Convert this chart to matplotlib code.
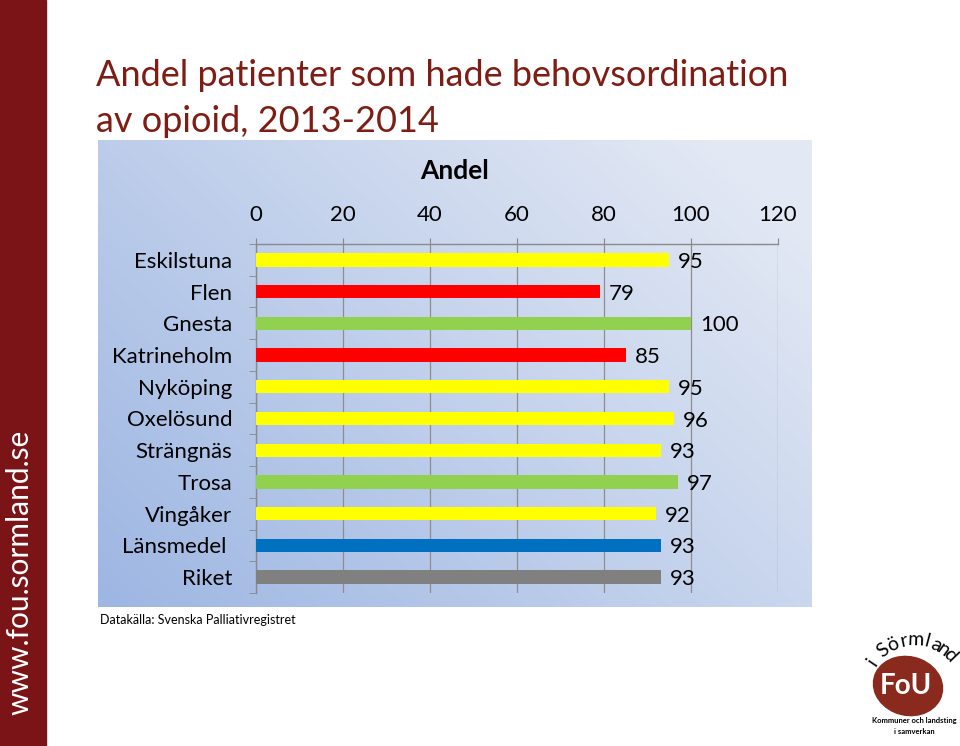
import numpy as np
import matplotlib
matplotlib.use('Agg')
from matplotlib import pyplot as plt
from matplotlib.patches import Rectangle, Ellipse

plt.rcParams['font.family'] = ['Lato', 'DejaVu Sans']

kommuner = ['Eskilstuna', 'Flen', 'Gnesta', 'Katrineholm', 'Nyköping', 'Oxelösund',
            'Strängnäs', 'Trosa', 'Vingåker', 'Länsmedel ', 'Riket']
andel = [95, 79, 100, 85, 95, 96, 93, 97, 92, 93, 93]
farger = ['#ffff00', '#ff0000', '#92d050', '#ff0000', '#ffff00', '#ffff00',
          '#ffff00', '#92d050', '#ffff00', '#0070c0', '#808080']
xticks = [0, 20, 40, 60, 80, 100, 120]

W, H = 960, 746
fig = plt.figure(figsize=(W / 100, H / 100), dpi=100)
fig.patch.set_facecolor('white')

def fx(px):
    return px / W

def fy(py):
    return 1 - py / H

# red band on the left
fig.patches.append(Rectangle((0, 0), fx(46), 1, transform=fig.transFigure,
                             color='#7b1416', zorder=0))
fig.text(fx(20), fy(572), 'www.fou.sormland.se', rotation=90, color='white',
         fontsize=21.5, ha='center', va='center')

# title
rod = '#7f1d14'
fig.text(fx(96), fy(76), 'Andel patienter som hade behovsordination', color=rod,
         fontsize=26, ha='left', va='center')
fig.text(fx(96), fy(122), 'av opioid, 2013-2014', color=rod,
         fontsize=26, ha='left', va='center')

# gradient background of the chart
bg = fig.add_axes([fx(98), fy(607), fx(812 - 98), (607 - 140) / H], zorder=0)
gx = np.linspace(0, 1, 200)
gy = np.linspace(0, 1, 200)
GX, GY = np.meshgrid(gx, gy)
t = np.clip(0.65 * GX + 0.45 * (1 - GY), 0, 1)  # 0 = bottom-left, 1 = top-right
c0 = np.array([0x9d, 0xb6, 0xe2]) / 255
c1 = np.array([0xe2, 0xe8, 0xf4]) / 255
img = c0[None, None, :] * (1 - t[..., None]) + c1[None, None, :] * t[..., None]
bg.imshow(img, origin='upper', aspect='auto', extent=[0, 1, 0, 1])
bg.axis('off')

# main chart
ax = fig.add_axes([fx(256), fy(593), fx(778 - 256), (593 - 244) / H], zorder=1)
ax.patch.set_alpha(0)
y = np.arange(len(kommuner))
ax.barh(y, andel, height=0.42, color=farger, zorder=3)
ax.set_ylim(len(kommuner) - 0.5, -0.5)
ax.set_xlim(0, 120)

ax.xaxis.tick_top()
ax.set_xticks(xticks)
ax.set_xticklabels([str(v) for v in xticks], fontsize=16)
ax.tick_params(axis='x', length=4, color='#888888', pad=10)
ax.grid(axis='x', color='#8e8e8e', linewidth=0.9, zorder=1)
ax.set_axisbelow(True)

ax.set_yticks(y)
ax.set_yticklabels(kommuner, fontsize=16)
ax.set_yticks(np.arange(len(kommuner) + 1) - 0.5, minor=True)
ax.tick_params(axis='y', which='major', length=0, pad=17)
ax.tick_params(axis='y', which='minor', length=5, color='#888888')

for s in ['right', 'bottom']:
    ax.spines[s].set_visible(False)
for s in ['left', 'top']:
    ax.spines[s].set_color('#8a8a8a')
    ax.spines[s].set_linewidth(1.0)

for yi, v in zip(y, andel):
    ax.annotate(str(v), (v, yi), xytext=(6.5, -1.5), textcoords='offset points',
                va='center', ha='left', fontsize=16)

fig.text(fx(455), fy(171), 'Andel', fontsize=19, fontweight='bold',
         ha='center', va='center')

fig.text(fx(100), fy(620), 'Datakälla: Svenska Palliativregistret', fontsize=9,
         ha='left', va='center')

# logo
lc = '#8a2a1f'
fig.patches.append(Ellipse((fx(908), fy(686)), fx(68), 60 / H, angle=20,
                           transform=fig.transFigure, color=lc, zorder=2))
fig.text(fx(906), fy(686), 'FoU', color='white', fontsize=20, fontweight='bold',
         ha='center', va='center', zorder=3)
letters = 'i Sörmland'
cx, cy, r = 914, 690, 50
angs = [146, 0, 128, 115, 102, 88, 75, 64, 54, 44]
for ch, a in zip(letters, angs):
    if ch == ' ':
        continue
    px = cx + r * np.cos(np.radians(a))
    py = cy - r * np.sin(np.radians(a))
    fig.text(fx(px), fy(py), ch, fontsize=14, color='black', ha='center',
             va='center', rotation=a - 90)
fig.text(fx(914), fy(721), 'Kommuner och landsting', fontsize=5.5,
         fontweight='bold', ha='center', va='center')
fig.text(fx(914), fy(731), 'i samverkan', fontsize=5.5,
         fontweight='bold', ha='center', va='center')

fig.savefig('out.png', dpi=100)
